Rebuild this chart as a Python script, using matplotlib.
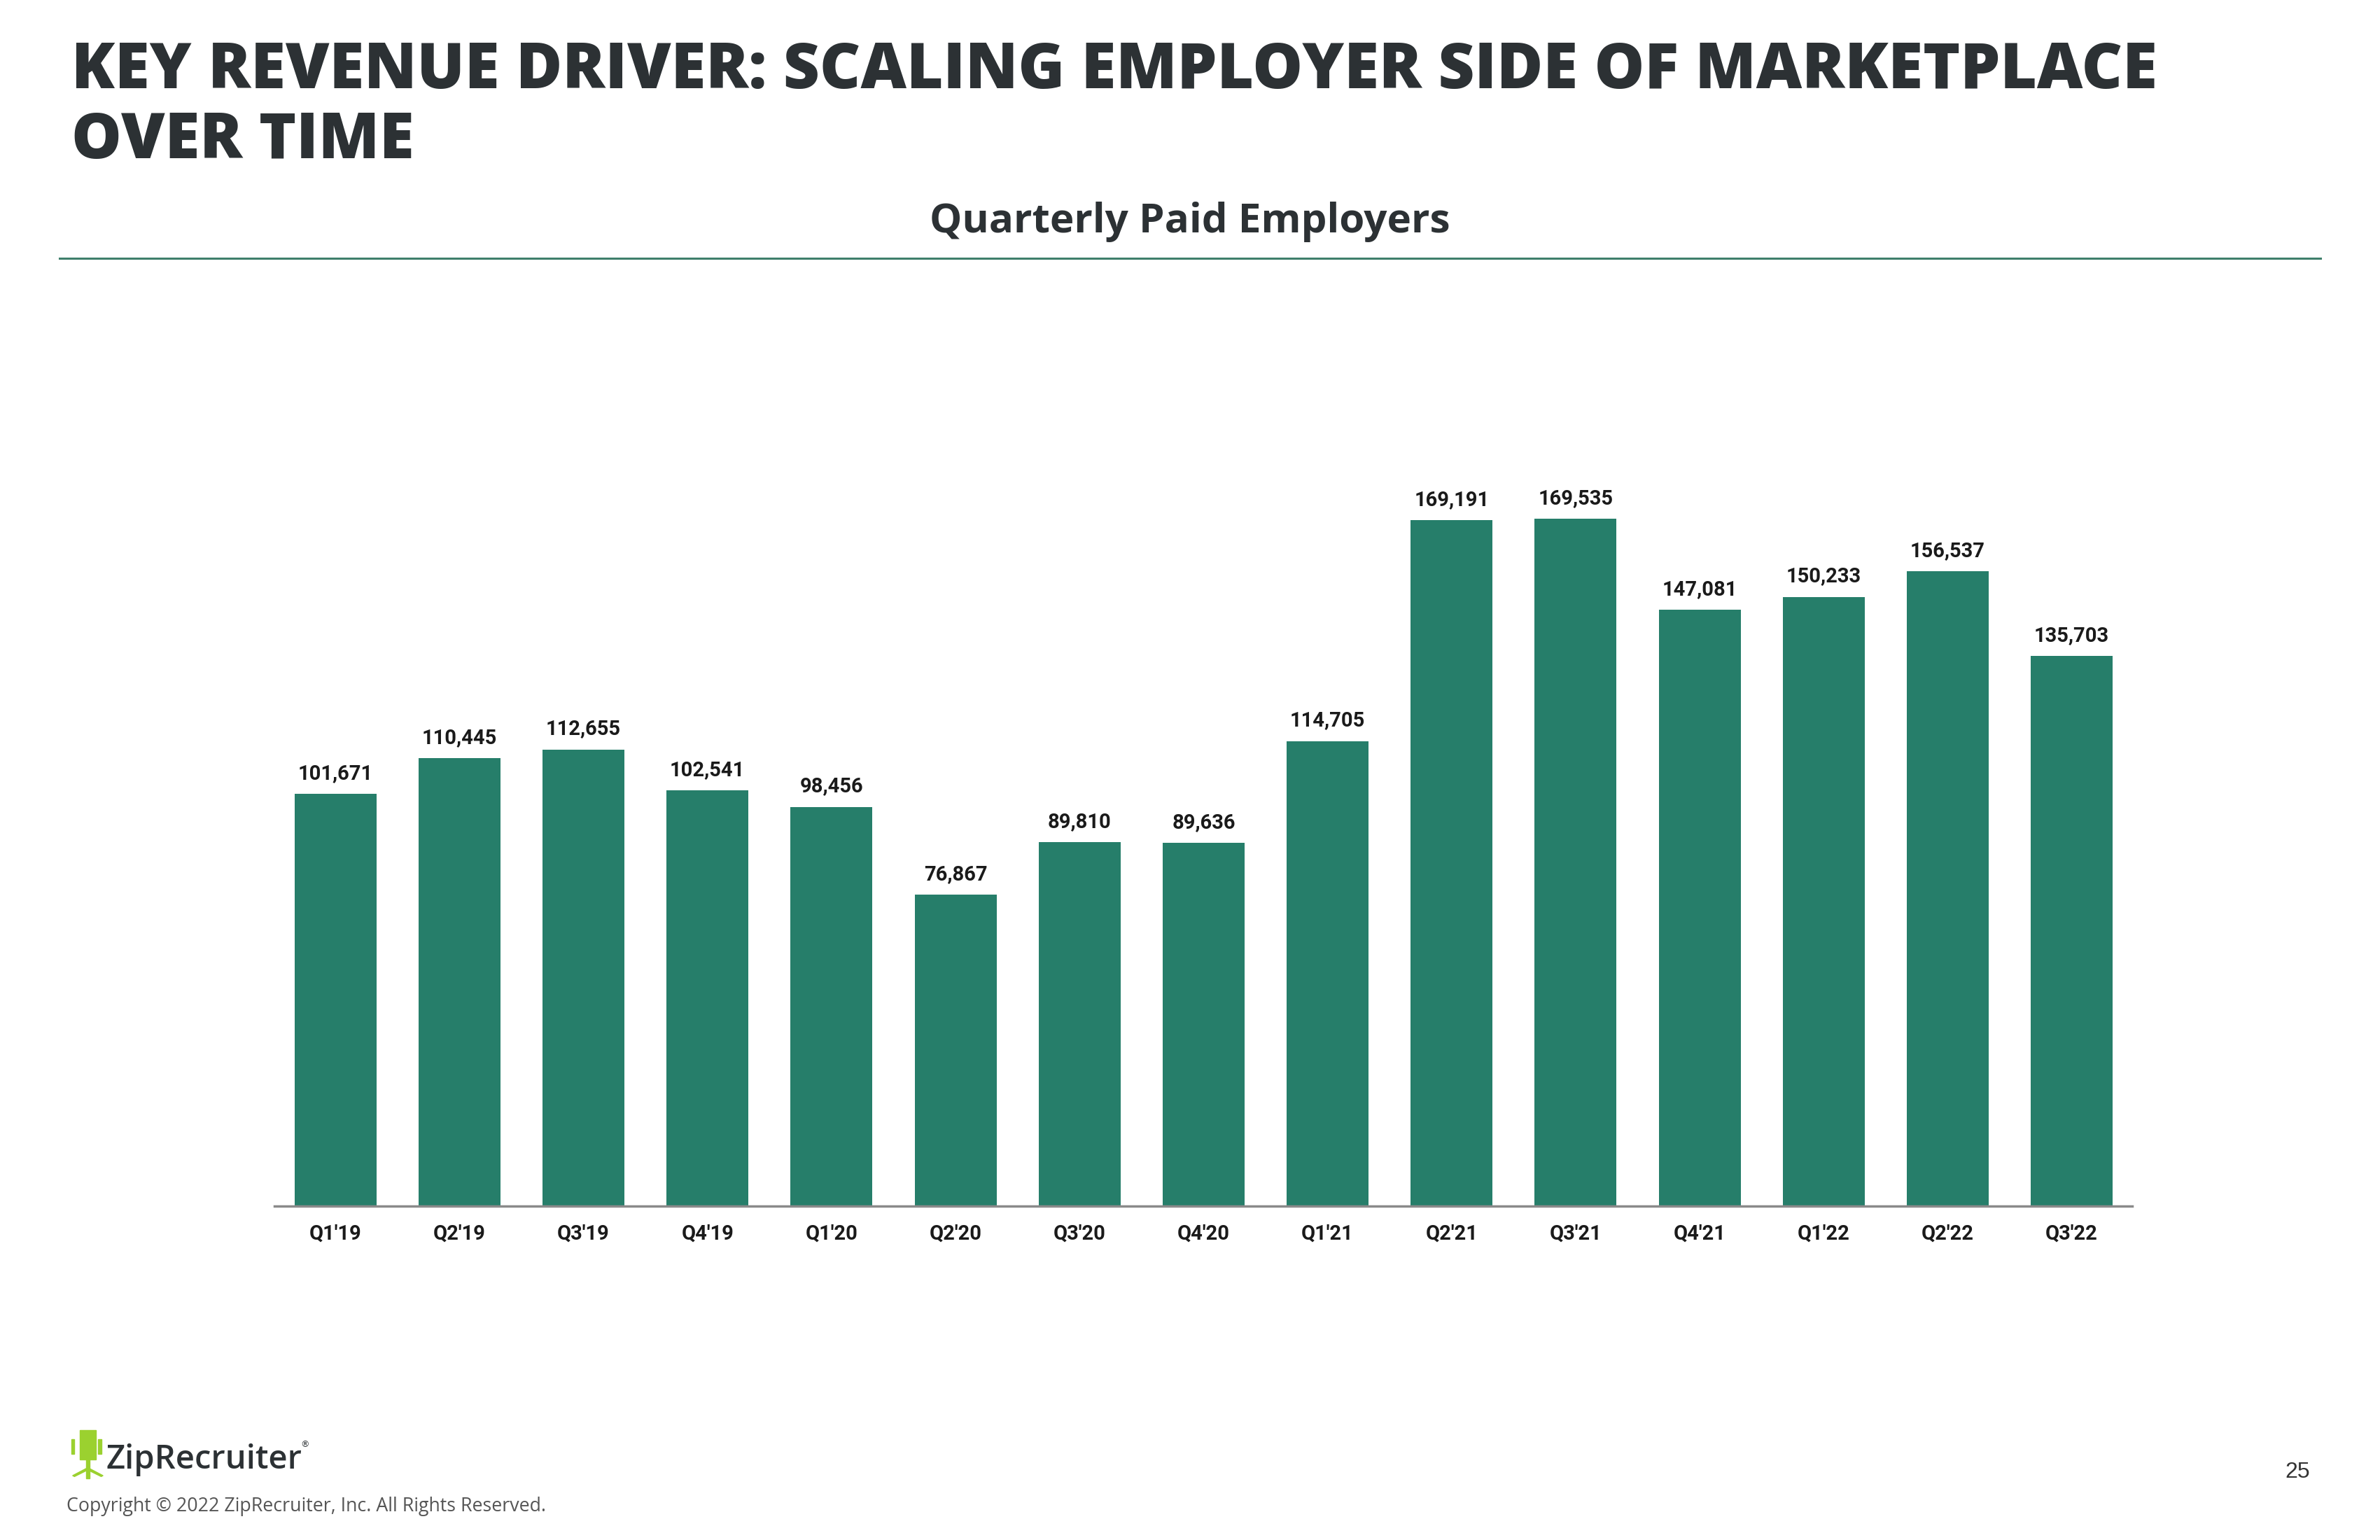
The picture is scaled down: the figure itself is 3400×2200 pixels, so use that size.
import matplotlib
matplotlib.use("Agg")
import matplotlib.pyplot as plt
from matplotlib.patches import Rectangle, Polygon
from matplotlib.lines import Line2D

quarters = ["Q1'19", "Q2'19", "Q3'19", "Q4'19", "Q1'20", "Q2'20", "Q3'20", "Q4'20",
            "Q1'21", "Q2'21", "Q3'21", "Q4'21", "Q1'22", "Q2'22", "Q3'22"]
paid_employers = [101671, 110445, 112655, 102541, 98456, 76867, 89810, 89636,
                  114705, 169191, 169535, 147081, 150233, 156537, 135703]

title = "KEY REVENUE DRIVER: SCALING EMPLOYER SIDE OF MARKETPLACE\nOVER TIME"
subtitle = "Quarterly Paid Employers"

bar_color = "#267e6a"
text_dark = "#2c3134"

fig = plt.figure(figsize=(34, 22), dpi=100)

# header
fig.text(0.030, 0.974, title, fontsize=65, fontweight="heavy", family="Open Sans",
         color=text_dark, va="top", ha="left", linespacing=1.13)
fig.text(0.5, 0.849, subtitle, fontsize=42, fontweight="bold", family="Open Sans",
         color=text_dark, ha="center", va="baseline")
fig.add_artist(Line2D([0.025, 0.975], [0.8325, 0.8325], color="#3f7f6c", lw=2.2))

# chart
ax = fig.add_axes([0.1154, 0.2167, 0.7806, 0.5267])
x = list(range(len(quarters)))
bars = ax.bar(x, paid_employers, width=0.66, color=bar_color)
for rect, v in zip(bars, paid_employers):
    ax.annotate(f"{v:,}", (rect.get_x() + rect.get_width() / 2, v),
                xytext=(0, 11), textcoords="offset points", ha="center", va="bottom",
                fontsize=21, fontweight="bold", family="Roboto", color="#1a1a1a")

ax.set_xlim(-0.49, len(quarters) - 0.51)
ax.set_ylim(0, 200000)
ax.set_xticks(x)
ax.set_xticklabels(quarters, fontsize=21, fontweight="bold", family="Roboto", color="#1a1a1a")
ax.tick_params(axis="x", length=0, pad=18)
ax.set_yticks([])
for s in ["top", "right", "left"]:
    ax.spines[s].set_visible(False)
ax.spines["bottom"].set_color("#8a8a8a")
ax.spines["bottom"].set_linewidth(2.5)

# footer: logo
green = "#9bd12f"
fig.add_artist(Rectangle((0.0335, 0.0525), 0.0068, 0.019, color=green, transform=fig.transFigure))
fig.add_artist(Rectangle((0.0300, 0.0560), 0.0012, 0.0095, color=green, transform=fig.transFigure))
fig.add_artist(Rectangle((0.0413, 0.0560), 0.0012, 0.0095, color=green, transform=fig.transFigure))
fig.add_artist(Rectangle((0.0362, 0.0465), 0.0014, 0.0062, color=green, transform=fig.transFigure))
fig.add_artist(Polygon([[0.0305, 0.0418], [0.0369, 0.0470], [0.0433, 0.0418],
                        [0.0425, 0.0412], [0.0369, 0.0455], [0.0313, 0.0412]],
                       closed=True, color=green, transform=fig.transFigure))
fig.add_artist(Rectangle((0.0363, 0.0400), 0.0012, 0.0060, color=green, transform=fig.transFigure))
fig.text(0.0445, 0.0465, "ZipRecruiter", fontsize=34, fontweight="semibold", family="Open Sans",
         color=text_dark, ha="left", va="baseline")
fig.text(0.1262, 0.0605, "®", fontsize=9, family="DejaVu Sans", color=text_dark,
         ha="left", va="baseline")
fig.text(0.028, 0.0185, "Copyright \u00a9 2022 ZipRecruiter, Inc. All Rights Reserved.",
         fontsize=19.3, family="Open Sans", color="#555555", ha="left", va="baseline")
fig.text(0.9705, 0.0405, "25", fontsize=23, family="Liberation Sans", color="#333333",
         ha="right", va="baseline")

fig.savefig("out.png", dpi=100, facecolor="white")
